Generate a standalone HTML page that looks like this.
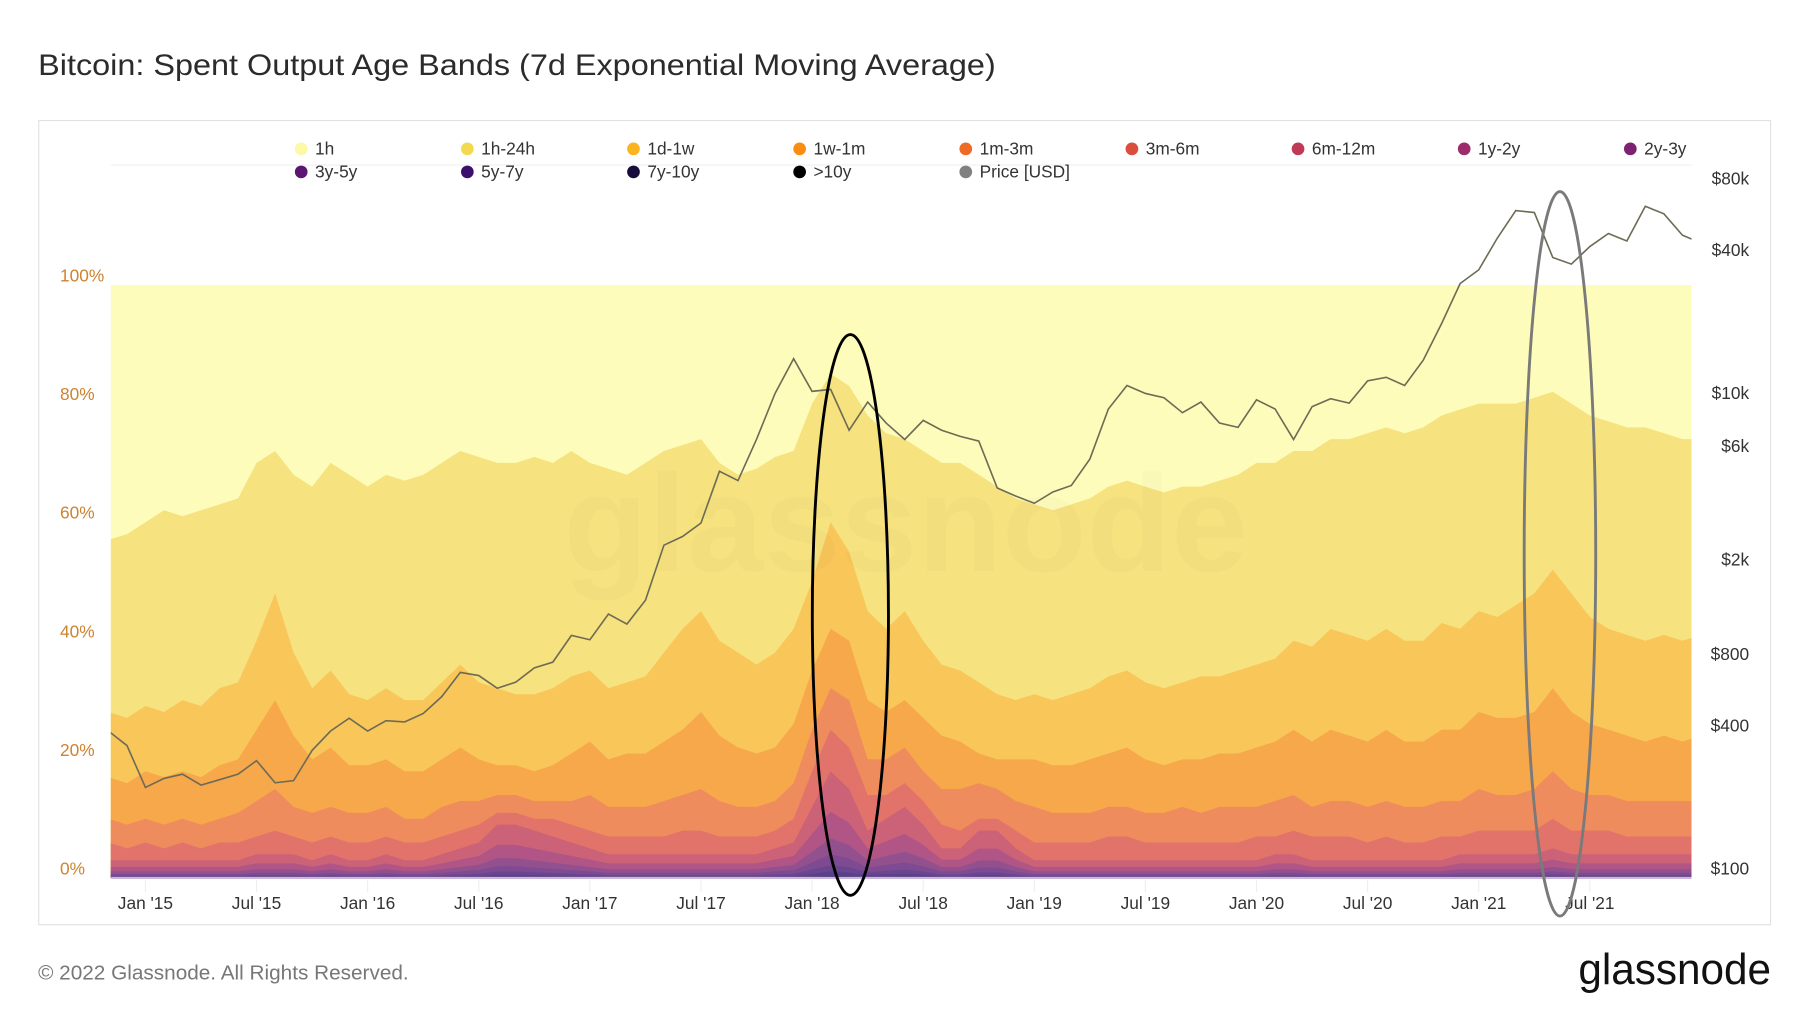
<!DOCTYPE html>
<html><head><meta charset="utf-8"><style>
html,body{margin:0;padding:0;background:#fff;}
svg{display:block;font-family:"Liberation Sans",sans-serif;}
</style></head><body>
<svg id="chart" width="1800" height="1013" viewBox="0 0 1560 878" xmlns="http://www.w3.org/2000/svg">
<text x="33" y="65" font-size="26" fill="#2b2b2b" textLength="830" lengthAdjust="spacingAndGlyphs">Bitcoin: Spent Output Age Bands (7d Exponential Moving Average)</text>
<rect x="33.5" y="104.5" width="1501" height="697" fill="#fff" stroke="#e2e2e2"/>
<line x1="96" y1="143" x2="1466" y2="143" stroke="#f0f0f0"/>
<g id="areas"></g>
<text x="785" y="495" font-size="120" text-anchor="middle" fill="rgba(0,0,0,0.015)" font-weight="bold">glassnode</text>
<g id="price"></g>
<g id="axes"></g>
<g id="legend"></g>
<ellipse cx="737" cy="533" rx="33" ry="243" fill="none" stroke="#000" stroke-width="2.5"/>
<ellipse cx="1352" cy="480" rx="31" ry="314" fill="none" stroke="#7a7a7a" stroke-width="2.5"/>
<text x="33" y="849" font-size="18" fill="#777">© 2022 Glassnode. All Rights Reserved.</text>
<text x="1535" y="853" font-size="38" text-anchor="end" fill="#111" textLength="167" lengthAdjust="spacingAndGlyphs">glassnode</text>
</svg>
<script>
// month offsets from Jan 2015 (t=-2 Nov 2014 ... t=84 Jan 2022)
const startMonth = -2;
// cumulative share (%) of all bands below the top of each band
const cumTop1h24h = [57,58,60,62,61,62,63,64,70,72,68,66,70,68,66,68,67,68,70,72,71,70,70,71,70,72,70,69,68,70,72,73,74,70,68,69,71,72,80,85,83,78,75,74,72,70,70,68,66,64,63,62,63,64,66,67,66,65,66,66,67,68,70,70,72,72,74,74,75,76,75,76,78,79,80,80,80,81,82,80,78,77,76,76,75,74,74];
const cumTop1d1w = [28,27,29,28,30,29,32,33,40,48,38,32,35,31,30,32,30,30,33,36,33,32,31,31,32,34,35,32,33,34,38,42,45,40,38,36,38,42,50,60,55,45,42,45,40,36,35,33,31,30,31,30,31,32,34,35,33,32,33,34,34,35,36,37,40,39,42,41,40,42,40,40,43,42,45,44,46,48,52,48,44,42,41,40,41,40,41];
const cumTop1w1m = [17,16,18,17,18,17,19,20,25,30,24,20,22,19,19,20,18,18,20,22,20,19,19,18,19,21,23,20,21,21,23,25,28,24,22,21,22,26,35,42,40,30,28,30,27,24,23,21,20,20,20,19,19,20,21,22,20,19,20,20,21,21,22,23,25,23,25,24,23,25,23,23,25,25,28,27,27,28,32,28,26,25,24,23,24,23,24];
const cumTop1m3m = [10,9,10,9,10,9,10,11,13,15,12,11,12,11,11,12,10,10,12,13,13,14,14,13,13,13,14,12,12,12,13,14,15,13,12,12,13,16,25,32,30,20,20,22,18,15,15,16,15,13,12,11,11,11,12,12,11,11,12,11,12,12,12,13,14,12,13,13,12,13,12,12,13,13,15,14,14,15,18,15,14,14,13,13,13,13,13];
const cumTop3m6m = [6,5,6,5,6,5,6,6,7,8,7,6,7,6,6,7,6,6,7,8,9,11,11,10,10,9,8,7,7,7,7,8,8,7,7,7,8,10,18,25,22,14,14,16,13,9,8,10,10,8,6,6,6,6,7,7,6,6,6,6,6,6,7,7,8,7,7,7,6,7,6,6,7,7,8,8,8,8,10,8,8,8,7,7,7,7,7];
const oldTotal = [3,3,3,3,3,3,3,3,4,4,4,3,4,3,3,4,3,3,4,5,6,9,9,8,7,6,5,4,4,4,4,4,4,4,4,4,5,6,12,18,15,8,10,12,9,5,5,8,8,5,3,3,3,3,3,3,3,3,3,3,3,3,3,4,4,3,3,3,3,3,3,3,3,4,4,4,4,4,5,4,4,4,4,4,4,4,4];
// split of the 6m+ total among the older bands
const oldBandNames = ["6m-12m","1y-2y","2y-3y","3y-5y","5y-7y","7y-10y",">10y"];
const oldSplit = [0.38,0.25,0.15,0.1,0.06,0.04,0.02];
// monthly price USD
const priceUSD = [380,330,220,240,250,225,237,250,285,230,235,315,380,430,380,420,415,450,530,670,650,575,610,700,740,960,920,1180,1070,1350,2300,2500,2850,4700,4300,6400,10000,14000,10200,10400,7000,9200,7500,6400,7700,7000,6600,6300,4000,3700,3450,3850,4100,5300,8600,10800,10000,9600,8300,9200,7500,7200,9400,8600,6400,8800,9500,9100,11300,11700,10800,13800,19700,29000,33100,45000,58800,57700,37300,35000,41500,47100,43800,61300,57000,46300,43000];
const xTickLabels = ["Jan '15","Jul '15","Jan '16","Jul '16","Jan '17","Jul '17","Jan '18","Jul '18","Jan '19","Jul '19","Jan '20","Jul '20","Jan '21","Jul '21"];
const xTickMonths = [0,6,12,18,24,30,36,42,48,54,60,66,72,78];
const pctTicks = [0,20,40,60,80,100];
const priceTicks = [100,400,800,2000,6000,10000,40000,80000];
const priceTickLabels = ["$100","$400","$800","$2k","$6k","$10k","$40k","$80k"];
const legendNames = ["1h","1h-24h","1d-1w","1w-1m","1m-3m","3m-6m","6m-12m","1y-2y","2y-3y","3y-5y","5y-7y","7y-10y",">10y","Price [USD]"];

const NS="http://www.w3.org/2000/svg";
const PL=96, PR=1466, PT=247, PB=761;
const X = m => 126 + m*16.05;
const Y = p => PB - (PB-PT)*p/100;
const YP = v => 753 - 206*Math.log10(v/100);
const legendColors = ["#fbf8a6","#f2d94e","#fbb31f","#f98e10","#ef6a26","#db4e3e","#c03a57","#9d2c6a","#7d2270","#5c1672","#3b0f6b","#170c3a","#000","#808080"];
const fillColors = ["#fdfcbb","#f6e27e","#f9c65a","#f6a84b","#ef8c5e","#e2736a","#cc6278","#b05585","#93508e","#7e4a92","#6a4590","#5a4088","#4a3a80"];

function mk(tag, attrs, parent){const e=document.createElementNS(NS,tag);for(const k in attrs)e.setAttribute(k,attrs[k]);parent.appendChild(e);return e;}

const n = cumTop1h24h.length;
const bounds = [];
let acc = new Array(n).fill(0);
for(let b=oldSplit.length-1;b>=0;b--){ acc = acc.map((a,i)=>a+oldTotal[i]*oldSplit[b]); bounds.push(acc.slice()); }
bounds.push(cumTop3m6m.slice());
bounds.push(cumTop1m3m.slice());
bounds.push(cumTop1w1m.slice());
bounds.push(cumTop1d1w.slice());
bounds.push(cumTop1h24h.slice());
bounds.push(new Array(n).fill(100));
const bandIdx = [12,11,10,9,8,7,6,5,4,3,2,1,0];
const svg=document.getElementById('chart');
const defs=mk('defs',{},svg);
const clip = mk('clipPath',{id:'pclip'},defs);
mk('rect',{x:PL,y:0,width:PR-PL,height:PB+1},clip);
const areas = document.getElementById('areas');
areas.setAttribute('clip-path','url(#pclip)');
for(let k=bounds.length-1;k>=0;k--){
  const top=bounds[k];
  let d='M'+X(startMonth)+','+PB;
  for(let i=0;i<n;i++) d+='L'+X(startMonth+i).toFixed(1)+','+Y(top[i]).toFixed(1);
  d+='L'+X(startMonth+n-1)+','+PB+'Z';
  const p=mk('path',{d:d,fill:fillColors[bandIdx[k]]},areas);
  
  
}
const bl=mk('line',{x1:PL,y1:PB,x2:PR,y2:PB,stroke:"#c9b8d8","stroke-width":2},areas);



const pclip2 = mk('clipPath',{id:'priceclip'},defs);
mk('rect',{x:PL,y:100,width:PR-PL,height:700},pclip2);
const pg=document.getElementById('price');
pg.setAttribute('clip-path','url(#priceclip)');
let pd='';
for(let i=0;i<n;i++){pd+=(pd?'L':'M')+X(startMonth+i).toFixed(1)+','+YP(priceUSD[i]).toFixed(1);}
const pl=mk('path',{d:pd,fill:'none',stroke:'#6e6b55','stroke-width':1.4},pg);



const ax=document.getElementById('axes');
pctTicks.forEach(v=>{const t=mk('text',{x:52,y:Y(v)-3,'font-size':15,fill:'#cd8330'},ax);t.textContent=v+'%';
 
 });
priceTicks.forEach((v,i)=>{const t=mk('text',{x:1516,y:YP(v)+5,'font-size':15,fill:'#333','text-anchor':'end'},ax);t.textContent=priceTickLabels[i];
 
 });
xTickMonths.forEach((m,i)=>{const l=mk('line',{x1:X(m),y1:PB+2,x2:X(m),y2:PB+12,stroke:'#eee'},ax);
 
 
 const t=mk('text',{x:X(m),y:788,'font-size':15,fill:'#333','text-anchor':'middle'},ax);t.textContent=xTickLabels[i];
 
 });

const lg=document.getElementById('legend');
legendNames.forEach((nm,i)=>{const col=i%9,row=Math.floor(i/9);const x=261+col*144,y=129+row*20;
 const g=mk('g',{},lg);
 
 
 mk('circle',{cx:x,cy:y,r:5.5,fill:legendColors[i]},g);
 const t=mk('text',{x:x+12,y:y+5,'font-size':15,fill:'#333'},g);t.textContent=nm;});
</script>
</body></html>
